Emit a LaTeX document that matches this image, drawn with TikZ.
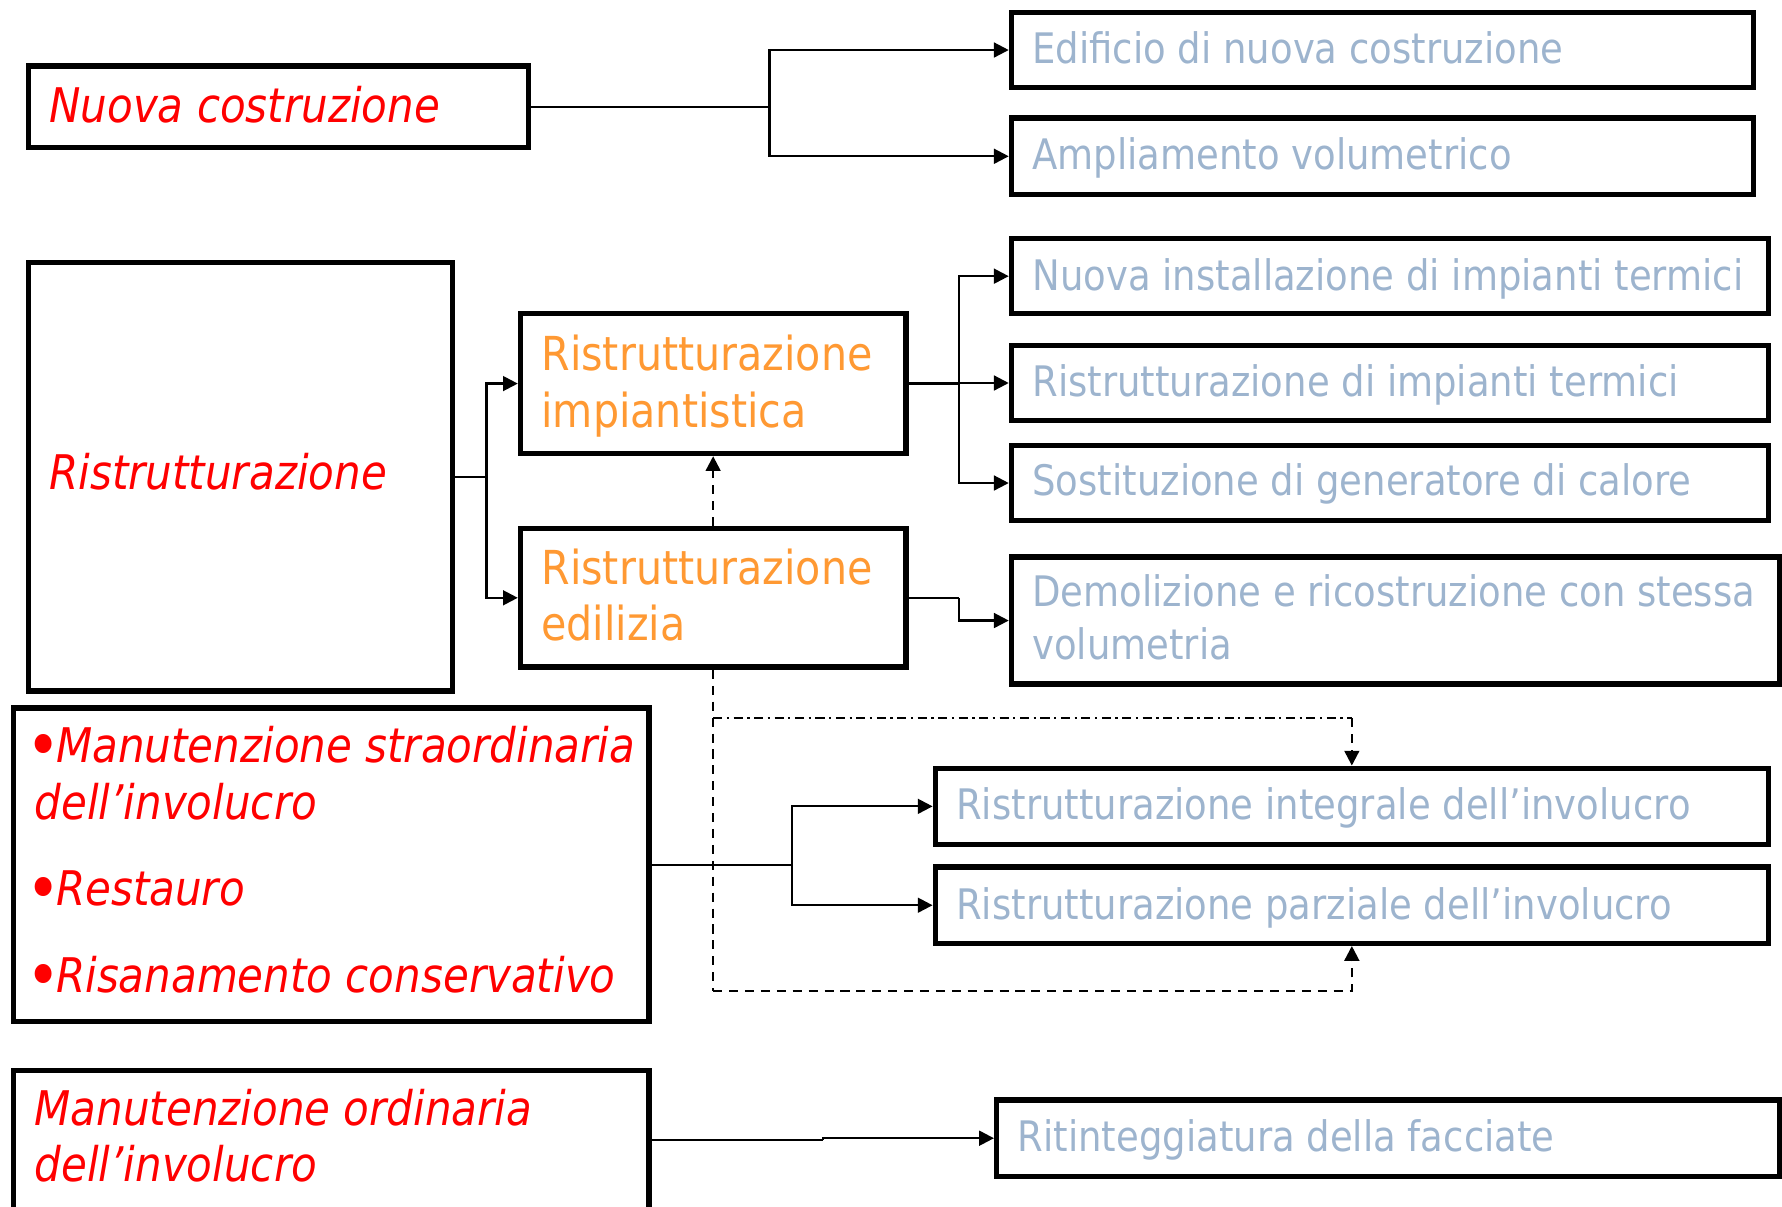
\documentclass[tikz,border=0pt]{standalone}
\usepackage{fontspec}
\setmainfont{DejaVu Sans}[FakeStretch=0.88]
\usetikzlibrary{arrows.meta,fit}
\definecolor{cred}{HTML}{FF0000}
\definecolor{corange}{HTML}{FF9933}
\definecolor{cblue}{HTML}{9DB4CE}
\newcommand{\mkbox}[5]{%
  \coordinate (#1-a) at (#2,#3);
  \coordinate (#1-b) at (#4,#5);
  \node[box, fit=(#1-a)(#1-b)] (#1) {};}
\newcommand{\bigbul}{\hbox to 11pt{\hss\raisebox{-2.6pt}{\fontsize{29}{29}\selectfont\upshape•}\hss}}
\begin{document}
\begin{tikzpicture}[x=0.5pt,y=-0.5pt,
  box/.style={draw=black, line width=2.4pt, inner sep=0pt},
  conn/.style={line width=1pt},
  arr/.style={conn, -{Triangle[length=6.5pt,width=6.5pt]}},
  redtxt/.style={anchor=base west, inner sep=0pt, text=cred, font=\fontsize{21}{25}\selectfont\itshape},
  ortxt/.style={anchor=base west, inner sep=0pt, text=corange, font=\fontsize{20.6}{25}\selectfont},
  bltxt/.style={anchor=base west, inner sep=0pt, text=cblue, font=\fontsize{18.5}{23}\selectfont},
  dsh/.style={conn, dash pattern=on 4pt off 3pt},
  dshdot/.style={conn, dash pattern=on 4pt off 2pt on 1pt off 2pt}]
\useasboundingbox (0,0) rectangle (1568,1062);

% boxes
\mkbox{nc}{25}{58}{465}{130}
\mkbox{ed}{890}{11}{1543}{77}
\mkbox{am}{890}{104}{1543}{171}
\mkbox{ri}{25}{231}{398}{608}
\mkbox{rimp}{458}{276}{797}{399}
\mkbox{redi}{458}{465}{797}{587}
\mkbox{ni}{890}{210}{1556}{276}
\mkbox{rit}{890}{304}{1556}{370}
\mkbox{sg}{890}{392}{1556}{458}
\mkbox{dem}{890}{490}{1566}{602}
\mkbox{ms}{12}{623}{571}{899}
\mkbox{rint}{823}{676}{1556}{743}
\mkbox{rpar}{823}{763}{1556}{830}
\mkbox{mo}{12}{942}{571}{1064}
\mkbox{rtg}{877}{968}{1566}{1035}

% texts
\node[redtxt] (t-nc) at (43,108) {Nuova costruzione};
\node[bltxt] (t-ed) at (908,56) {Edificio di nuova costruzione};
\node[bltxt] (t-am) at (908,149) {Ampliamento volumetrico};
\node[redtxt] (t-ri) at (43,431) {Ristrutturazione};
\node[ortxt] (t-rimp1) at (476,326) {Ristrutturazione};
\node[ortxt] (t-rimp2) at (476,376) {impiantistica};
\node[ortxt] (t-redi1) at (476,514) {Ristrutturazione};
\node[ortxt] (t-redi2) at (476,564) {edilizia};
\node[bltxt] (t-ni) at (908,256) {Nuova installazione di impianti termici};
\node[bltxt] (t-rit) at (908,349) {Ristrutturazione di impianti termici};
\node[bltxt] (t-sg) at (908,436) {Sostituzione di generatore di calore};
\node[bltxt] (t-dem1) at (908,534) {Demolizione e ricostruzione con stessa};
\node[bltxt] (t-dem2) at (908,580) {volumetria};
\node[redtxt] (t-ms1) at (27,671) {\bigbul Manutenzione straordinaria};
\node[redtxt] (t-ms2) at (30,721) {dell’involucro};
\node[redtxt] (t-ms3) at (27,797) {\bigbul Restauro};
\node[redtxt] (t-ms4) at (27,873) {\bigbul Risanamento conservativo};
\node[bltxt] (t-rint) at (841,721) {Ristrutturazione integrale dell’involucro};
\node[bltxt] (t-rpar) at (841,809) {Ristrutturazione parziale dell’involucro};
\node[redtxt] (t-mo1) at (30,990) {Manutenzione ordinaria};
\node[redtxt] (t-mo2) at (30,1040) {dell’involucro};
\node[bltxt] (t-rtg) at (895,1013) {Ritinteggiatura della facciate};

% connectors
\coordinate (j1) at (677,94);
\draw[conn] (nc.east) -- (nc.east -| j1);
\draw[arr] (nc.east -| j1) |- (ed.west);
\draw[arr] (nc.east -| j1) |- (am.west);

\coordinate (j2) at (428,0);
\draw[conn] (ri.east) -- (ri.east -| j2);
\draw[arr] (ri.east -| j2) |- (rimp.west);
\draw[arr] (ri.east -| j2) |- (redi.west);

\coordinate (j3) at (844,0);
\draw[conn] (rimp.east) -- (rimp.east -| j3);
\draw[arr] (rimp.east -| j3) |- (ni.west);
\draw[arr] (rimp.east -| j3) |- (rit.west);
\draw[arr] (rimp.east -| j3) |- (sg.west);

\draw[conn] (redi.east) -- (redi.east -| j3);
\draw[arr] (redi.east -| j3) |- (dem.west);

\draw[dsh, -{Triangle[length=6.5pt,width=6.5pt]}] (redi.north) -- (rimp.south);

\coordinate (j5) at (697,0);
\draw[conn] (ms.east) -- (ms.east -| j5);
\draw[arr] (ms.east -| j5) |- (rint.west);
\draw[arr] (ms.east -| j5) |- (rpar.west);

\coordinate (j6) at (724,1003);
\draw[conn] (mo.east) -- (j6);
\draw[arr] (j6) |- (rtg.west);

% dashed links from Ristrutturazione edilizia
\coordinate (d1) at (627.5,632);
\coordinate (d2) at (627.5,872);
\draw[dsh] (redi.south) -- (d2);
\draw[dsh, -{Triangle[length=6.5pt,width=6.5pt]}] (d2) -| (rpar.south);
\draw[dshdot] (d1) -- (d1 -| rint.north);
\draw[dsh, -{Triangle[length=6.5pt,width=6.5pt]}] (d1 -| rint.north) -- (rint.north);
\end{tikzpicture}
\end{document}
